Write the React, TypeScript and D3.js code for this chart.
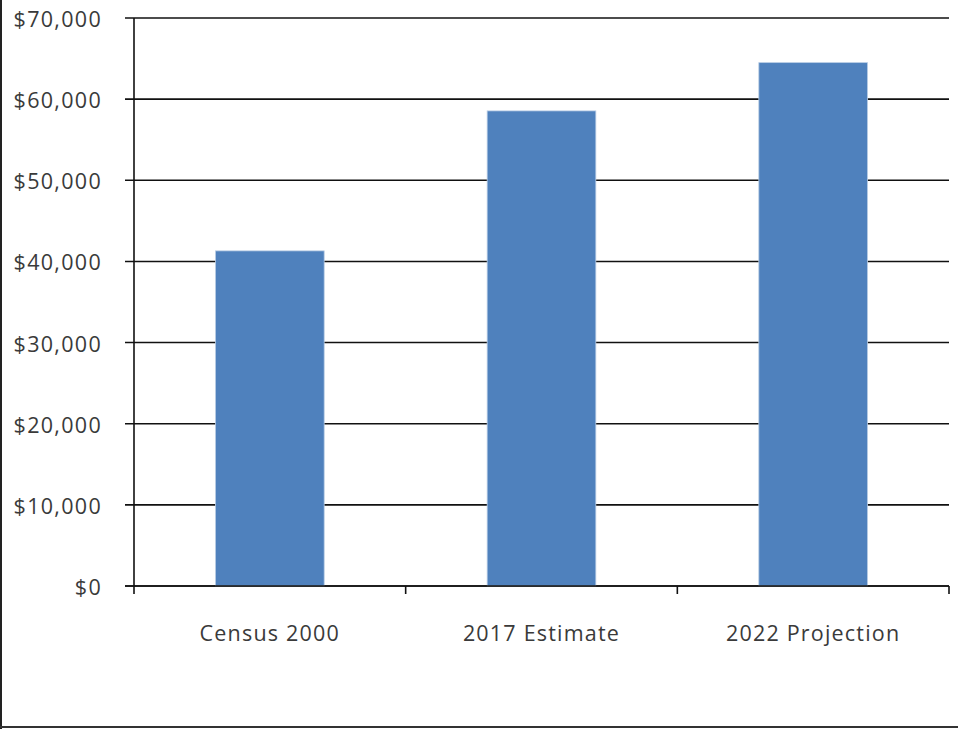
import React from "react";
import * as d3 from "d3";

const categories = ["Census 2000", "2017 Estimate", "2022 Projection"];
const values = [41300, 58550, 64500];
const yTicks = [0, 10000, 20000, 30000, 40000, 50000, 60000, 70000];

const W = 958;
const H = 729;
const plot = { left: 134, right: 949, top: 18, bottom: 586 };
const FONT = "'Open Sans', sans-serif";

export default function App() {
  const x = d3
    .scaleBand<string>()
    .domain(categories)
    .range([plot.left, plot.right])
    .paddingInner(0.6)
    .paddingOuter(0.3);
  const y = d3.scaleLinear().domain([0, 70000]).range([plot.bottom, plot.top]);
  const fmt = (v: number) => "$" + d3.format(",")(v);
  const slot = (plot.right - plot.left) / categories.length;
  const boundaries = d3.range(categories.length + 1).map((i) => plot.left + i * slot);

  return (
    <svg
      width={W}
      height={H}
      style={{ position: "absolute", left: 0, top: 0, display: "block", background: "#fff" }}
    >
      <rect x={0} y={0} width={W} height={H} fill="#fff" />
      {/* outer frame: left and bottom */}
      <line x1={1} x2={1} y1={0} y2={H} stroke="#222" strokeWidth={2} />
      <line x1={0} x2={W} y1={727} y2={727} stroke="#333" strokeWidth={2} />

      {/* gridlines and y ticks */}
      {yTicks.map((t) => (
        <g key={t}>
          <line
            x1={plot.left - 9}
            x2={plot.right}
            y1={y(t)}
            y2={y(t)}
            stroke="#111"
            strokeWidth={1.6}
          />
          <text
            x={102}
            y={y(t)}
            dy={9}
            textAnchor="end"
            fontFamily={FONT}
            fontSize={21.5}
            fill="#3a3a3a"
            letterSpacing={1.3}
          >
            {fmt(t)}
          </text>
        </g>
      ))}

      {/* bars */}
      {categories.map((c, i) => (
        <rect
          key={c}
          x={x(c)}
          y={y(values[i])}
          width={x.bandwidth()}
          height={y(0) - y(values[i])}
          fill="#4F81BD"
          stroke="#B8CCE4"
          strokeWidth={0.8}
        />
      ))}

      {/* y axis line */}
      <line x1={plot.left} x2={plot.left} y1={plot.top} y2={plot.bottom} stroke="#111" strokeWidth={1.6} />
      {/* x axis line */}
      <line x1={plot.left - 9} x2={plot.right} y1={plot.bottom} y2={plot.bottom} stroke="#111" strokeWidth={1.6} />
      {boundaries.map((b, i) => (
        <line key={i} x1={b} x2={b} y1={plot.bottom} y2={plot.bottom + 8} stroke="#111" strokeWidth={1.6} />
      ))}

      {/* category labels */}
      {categories.map((c) => (
        <text
          key={c}
          x={(x(c) as number) + x.bandwidth() / 2}
          y={641}
          textAnchor="middle"
          fontFamily={FONT}
          fontSize={21.5}
          fill="#3a3a3a"
          letterSpacing={1.2}
        >
          {c}
        </text>
      ))}
    </svg>
  );
}
